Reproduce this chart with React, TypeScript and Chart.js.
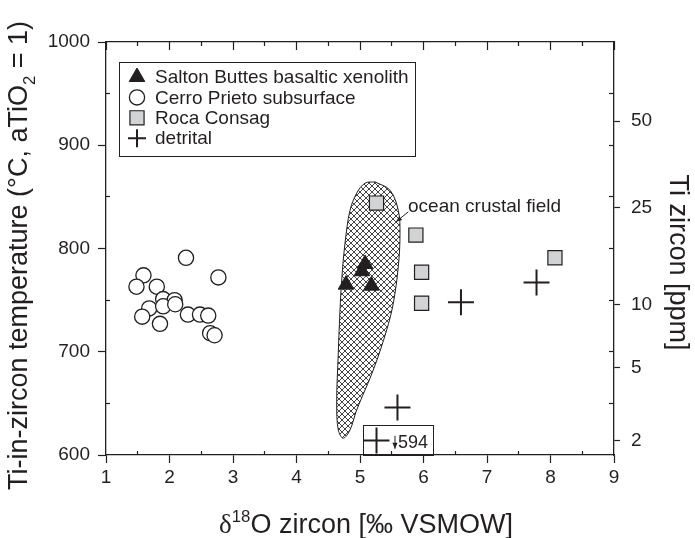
import React, { useEffect, useRef } from 'react';
import { Chart, registerables } from 'chart.js';
import { drawPoint } from 'chart.js/helpers';

Chart.register(...registerables);

// ---------- data ----------
const xTickValues = [1, 2, 3, 4, 5, 6, 7, 8, 9];
const xMinorTickValues = [1.5, 2.5, 3.5, 4.5, 5.5, 6.5, 7.5, 8.5];
const tempTickValues = [600, 700, 800, 900, 1000];
const tempMinorTickValues = [650, 750, 850, 950];
const tempMirrorTickValues = [650, 700, 750, 800, 850, 900, 950];
const ppmTickLabels = [2, 5, 10, 25, 50];

const seriesLabels = ['Salton Buttes basaltic xenolith', 'Cerro Prieto subsurface', 'Roca Consag', 'detrital'];

const saltonX = [4.78, 5.03, 5.08, 5.18];
const saltonY = [765, 778, 785, 764];

const cerroX = [2.26, 1.59, 2.77, 1.48, 1.80, 1.90, 2.08, 1.68, 1.90, 2.09, 1.57, 1.85, 2.29, 2.48, 2.61, 2.64, 2.71];
const cerroY = [791, 774, 772, 763, 763, 751, 750, 742, 744, 746, 734, 727, 736, 736, 735, 718, 716];

const consagX = [5.26, 5.88, 5.97, 5.97, 8.07];
const consagY = [844, 813, 777, 747, 791];

const detritalX = [6.59, 7.78, 5.59, 5.26];
const detritalY = [748, 767, 646, 614];

const fieldX = [5.236, 5.472, 5.603, 5.630, 5.603, 5.524, 5.420, 5.209, 4.948, 4.843, 4.737, 4.658, 4.633, 4.658, 4.685, 4.712, 4.764, 4.843, 4.948, 5.079, 5.236];
const fieldY = [864.5, 856.5, 837.1, 814.9, 782.3, 746.9, 721.0, 682.3, 643.6, 624.3, 616.3, 624.3, 650.4, 698.8, 740.4, 769.4, 805.2, 837.1, 853.6, 863.3, 864.5];

const fieldLabelText = 'ocean crustal field';
const fieldLabelAt = { x: 5.756, y: 840.3 };
const fieldArrowFrom = { x: 5.761, y: 835.5 };
const fieldArrowTo = { x: 5.567, y: 825.8 };

const offscaleText = '594';
const offscaleBox = { x0: 5.047, x1: 6.15, y0: 600, y1: 629 };
const offscaleTextAt = { x: 5.598, y: 611.7 };
const offscaleArrow = { x: 5.551, y0: 618.5, y1: 606 };

// Ti-in-zircon thermometer (Ferry & Watson 2007, aTiO2 = aSiO2 = 1) places the ppm ticks on the °C axis
const ppmToTemp = (ppm: number) => 4800 / (5.711 - Math.log10(ppm)) - 273.15;

// ---------- style ----------
const FONT = '"Liberation Sans", Arial, Helvetica, sans-serif';
const SERIF = '"Liberation Serif", "Times New Roman", serif';
const INK = '#231f20';
const TICK_FONT = { family: FONT, size: 19 };

function makeHatch(): CanvasPattern | string {
  const s = 6;
  const c = document.createElement('canvas');
  c.width = s;
  c.height = s;
  const g = c.getContext('2d');
  if (!g) return '#ccc';
  g.fillStyle = '#ffffff';
  g.fillRect(0, 0, s, s);
  g.strokeStyle = '#222222';
  g.lineWidth = 0.85;
  g.beginPath();
  for (let k = -1; k <= 1; k++) {
    g.moveTo(-1, -1 + k * s);
    g.lineTo(s + 1, s + 1 + k * s);
    g.moveTo(-1, s + 1 + k * s);
    g.lineTo(s + 1, -1 + k * s);
  }
  g.stroke();
  return g.createPattern(c, 'repeat') || '#ccc';
}

type Part = { t: string; s?: number; dy?: number; font?: string };

function drawRich(ctx: CanvasRenderingContext2D, parts: Part[], size: number) {
  let total = 0;
  const widths = parts.map((p) => {
    ctx.font = `${size * (p.s || 1)}px ${p.font || FONT}`;
    const w = ctx.measureText(p.t).width;
    total += w;
    return w;
  });
  let x = -total / 2;
  parts.forEach((p, i) => {
    ctx.font = `${size * (p.s || 1)}px ${p.font || FONT}`;
    ctx.fillText(p.t, x, (p.dy || 0) * size);
    x += widths[i];
  });
}

function arrowHead(ctx: CanvasRenderingContext2D, fx: number, fy: number, tx: number, ty: number, len: number, half: number) {
  const a = Math.atan2(ty - fy, tx - fx);
  ctx.beginPath();
  ctx.moveTo(tx, ty);
  ctx.lineTo(tx - len * Math.cos(a) + half * Math.sin(a), ty - len * Math.sin(a) - half * Math.cos(a));
  ctx.lineTo(tx - len * Math.cos(a) - half * Math.sin(a), ty - len * Math.sin(a) + half * Math.cos(a));
  ctx.closePath();
  ctx.fill();
}

const legendStyles = [
  { pointStyle: 'triangle', radius: 9, borderWidth: 1, fill: INK },
  { pointStyle: 'circle', radius: 7.6, borderWidth: 1.3, fill: '#ffffff' },
  { pointStyle: 'rect', radius: 10, borderWidth: 1.2, fill: '#d1d3d4' },
  { pointStyle: 'cross', radius: 9, borderWidth: 2, fill: INK },
];

const decorPlugin = {
  id: 'decor',
  afterDatasetsDraw(chart: any) {
    const { ctx, scales } = chart;
    const xs = scales.x;
    const ys = scales.y;
    ctx.save();
    ctx.fillStyle = INK;
    ctx.strokeStyle = INK;

    // ocean crustal field label + arrow
    ctx.font = `19px ${FONT}`;
    ctx.textAlign = 'left';
    ctx.textBaseline = 'middle';
    ctx.fillText(fieldLabelText, xs.getPixelForValue(fieldLabelAt.x), ys.getPixelForValue(fieldLabelAt.y));
    const ax0 = xs.getPixelForValue(fieldArrowFrom.x);
    const ay0 = ys.getPixelForValue(fieldArrowFrom.y);
    const ax1 = xs.getPixelForValue(fieldArrowTo.x);
    const ay1 = ys.getPixelForValue(fieldArrowTo.y);
    ctx.lineWidth = 1;
    ctx.beginPath();
    ctx.moveTo(ax0, ay0);
    ctx.lineTo(ax1, ay1);
    ctx.stroke();
    arrowHead(ctx, ax0, ay0, ax1, ay1, 6, 2.5);

    // off-scale box
    const bx0 = xs.getPixelForValue(offscaleBox.x0);
    const bx1 = xs.getPixelForValue(offscaleBox.x1);
    const by0 = ys.getPixelForValue(offscaleBox.y1);
    const by1 = ys.getPixelForValue(offscaleBox.y0);
    ctx.lineWidth = 1;
    ctx.strokeRect(Math.round(bx0) + 0.5, Math.round(by0) + 0.5, Math.round(bx1 - bx0), Math.round(by1 - by0));
    const arx = xs.getPixelForValue(offscaleArrow.x);
    const ary0 = ys.getPixelForValue(offscaleArrow.y0);
    const ary1 = ys.getPixelForValue(offscaleArrow.y1);
    ctx.beginPath();
    ctx.moveTo(arx, ary0);
    ctx.lineTo(arx, ary1);
    ctx.stroke();
    arrowHead(ctx, arx, ary0, arx, ary1, 6, 2.6);
    ctx.font = `18px ${FONT}`;
    ctx.fillText(offscaleText, xs.getPixelForValue(offscaleTextAt.x), ys.getPixelForValue(offscaleTextAt.y));
    ctx.restore();
  },
  afterDraw(chart: any) {
    const { ctx, chartArea } = chart;
    ctx.save();
    ctx.fillStyle = INK;
    ctx.strokeStyle = INK;

    // legend
    const legendFont = `19px ${FONT}`;
    ctx.font = legendFont;
    const maxW = Math.max(...seriesLabels.map((l) => ctx.measureText(l).width));
    const boxL = chartArea.left + 13;
    const boxT = chartArea.top + 20;
    const textX = chartArea.left + 49;
    const boxR = textX + maxW + 7;
    const boxB = chartArea.top + 114;
    ctx.lineWidth = 1;
    ctx.strokeRect(Math.round(boxL) + 0.5, Math.round(boxT) + 0.5, Math.round(boxR - boxL), Math.round(boxB - boxT));
    seriesLabels.forEach((label, i) => {
      const y = chartArea.top + 35 + i * 20.4;
      const st = legendStyles[i];
      ctx.save();
      ctx.fillStyle = st.fill;
      ctx.strokeStyle = INK;
      ctx.lineWidth = st.borderWidth;
      drawPoint(ctx, { pointStyle: st.pointStyle, radius: st.radius, borderWidth: st.borderWidth, rotation: 0 } as any, chartArea.left + 31, y);
      ctx.restore();
      ctx.font = legendFont;
      ctx.textAlign = 'left';
      ctx.textBaseline = 'middle';
      ctx.fillStyle = INK;
      ctx.fillText(label, textX, y + 1);
    });

    // axis titles
    const size = 27;
    ctx.textAlign = 'left';
    ctx.textBaseline = 'alphabetic';
    const cy = (chartArea.top + chartArea.bottom) / 2;

    ctx.save();
    ctx.translate(27, cy + 7);
    ctx.rotate(-Math.PI / 2);
    drawRich(ctx, [{ t: 'Ti-in-zircon temperature (°C, aTiO' }, { t: '2', s: 0.62, dy: 0.28 }, { t: ' = 1)' }], size);
    ctx.restore();

    ctx.save();
    ctx.translate((chartArea.left + chartArea.right) / 2 + 6, 533);
    drawRich(ctx, [{ t: 'δ', font: SERIF }, { t: '18', s: 0.62, dy: -0.4 }, { t: 'O zircon [‰ VSMOW]' }], size);
    ctx.restore();

    ctx.save();
    ctx.translate(670, cy + 14);
    ctx.rotate(Math.PI / 2);
    drawRich(ctx, [{ t: 'Ti zircon [ppm]' }], size);
    ctx.restore();

    ctx.restore();
  },
};

const setTicks = (values: number[]) => (scale: any) => {
  scale.ticks = values.map((v) => ({ value: v }));
};

export default function App() {
  const ref = useRef<HTMLCanvasElement | null>(null);

  useEffect(() => {
    if (!ref.current) return;
    const hatch = makeHatch();
    const pts = (xs: number[], ys: number[]) => xs.map((x, i) => ({ x, y: ys[i] }));

    const axisLine = { color: INK, width: 1.3 };
    const noGrid = (tickLength: number, width = 1.2) => ({
      display: true,
      drawOnChartArea: false,
      drawTicks: true,
      tickLength,
      tickWidth: width,
      tickColor: INK,
    });

    const chart = new Chart(ref.current, {
      type: 'scatter',
      data: {
        datasets: [
          {
            label: seriesLabels[0],
            data: pts(saltonX, saltonY),
            pointStyle: 'triangle',
            pointRadius: 9,
            pointHoverRadius: 9,
            backgroundColor: INK,
            borderColor: INK,
            borderWidth: 1,
            order: 1,
          },
          {
            label: seriesLabels[1],
            data: pts(cerroX, cerroY),
            pointStyle: 'circle',
            pointRadius: 7.6,
            pointHoverRadius: 7.6,
            backgroundColor: '#ffffff',
            borderColor: INK,
            borderWidth: 1.3,
            order: 1,
          },
          {
            label: seriesLabels[2],
            data: pts(consagX, consagY),
            pointStyle: 'rect',
            pointRadius: 10,
            pointHoverRadius: 10,
            backgroundColor: '#d1d3d4',
            borderColor: INK,
            borderWidth: 1.2,
            order: 1,
          },
          {
            label: seriesLabels[3],
            data: pts(detritalX, detritalY),
            pointStyle: 'cross',
            pointRadius: 13,
            pointHoverRadius: 13,
            backgroundColor: INK,
            borderColor: INK,
            borderWidth: 2,
            order: 1,
          },
          {
            type: 'line',
            label: 'ocean crustal field',
            data: pts(fieldX, fieldY),
            borderColor: INK,
            borderWidth: 1,
            backgroundColor: hatch as any,
            fill: 'shape',
            pointRadius: 0,
            pointHoverRadius: 0,
            tension: 0.35,
            order: 10,
          } as any,
        ],
      },
      options: {
        animation: false,
        responsive: false,
        devicePixelRatio: 1,
        events: [],
        layout: { padding: 0 },
        plugins: { legend: { display: false }, tooltip: { enabled: false } },
        scales: {
          x: {
            type: 'linear',
            position: 'bottom',
            min: 1,
            max: 9,
            weight: 1,
            afterBuildTicks: setTicks(xTickValues),
            ticks: { font: TICK_FONT, color: INK, padding: 3, maxRotation: 0, autoSkip: false, callback: (v: any) => String(v) },
            grid: noGrid(8),
            border: axisLine,
            afterFit: (s: any) => { s.height = 83; },
          },
          xMinor: {
            type: 'linear',
            position: 'bottom',
            min: 1,
            max: 9,
            weight: 0,
            afterBuildTicks: setTicks(xMinorTickValues),
            ticks: { display: false },
            grid: noGrid(-4),
            border: { display: false },
            afterFit: (s: any) => { s.height = 0; },
          },
          xTop: {
            type: 'linear',
            position: 'top',
            min: 1,
            max: 9,
            weight: 1,
            afterBuildTicks: setTicks(xTickValues),
            ticks: { display: false },
            grid: noGrid(-8),
            border: axisLine,
            afterFit: (s: any) => { s.height = 42; },
          },
          xTopMinor: {
            type: 'linear',
            position: 'top',
            min: 1,
            max: 9,
            weight: 0,
            afterBuildTicks: setTicks(xMinorTickValues),
            ticks: { display: false },
            grid: noGrid(-4),
            border: { display: false },
            afterFit: (s: any) => { s.height = 0; },
          },
          y: {
            type: 'linear',
            position: 'left',
            min: 600,
            max: 1000,
            weight: 1,
            afterBuildTicks: setTicks(tempTickValues),
            ticks: { font: TICK_FONT, color: INK, padding: 8, callback: (v: any) => String(v) },
            grid: noGrid(8),
            border: axisLine,
            afterFit: (s: any) => { s.width = 106; },
          },
          yMinor: {
            type: 'linear',
            position: 'left',
            min: 600,
            max: 1000,
            weight: 0,
            afterBuildTicks: setTicks(tempMinorTickValues),
            ticks: { display: false },
            grid: noGrid(-4),
            border: { display: false },
            afterFit: (s: any) => { s.width = 0; },
          },
          y2: {
            type: 'linear',
            position: 'right',
            min: 600,
            max: 1000,
            weight: 1,
            afterBuildTicks: (s: any) => { s.ticks = ppmTickLabels.map((p) => ({ value: ppmToTemp(p) })); },
            ticks: {
              font: TICK_FONT,
              color: INK,
              padding: 11,
              callback: (_v: any, i: number) => String(ppmTickLabels[i]),
            },
            grid: noGrid(6),
            border: axisLine,
            afterFit: (s: any) => { s.width = 81; },
          },
          y2Minor: {
            type: 'linear',
            position: 'right',
            min: 600,
            max: 1000,
            weight: 0,
            afterBuildTicks: setTicks(tempMirrorTickValues),
            ticks: { display: false },
            grid: noGrid(-5),
            border: { display: false },
            afterFit: (s: any) => { s.width = 0; },
          },
        },
      } as any,
      plugins: [decorPlugin],
    });

    return () => chart.destroy();
  }, []);

  return (
    <div style={{ position: 'absolute', left: 0, top: 0, width: 695, height: 538, background: '#ffffff' }}>
      <canvas ref={ref} width={695} height={538} style={{ display: 'block' }} />
    </div>
  );
}
